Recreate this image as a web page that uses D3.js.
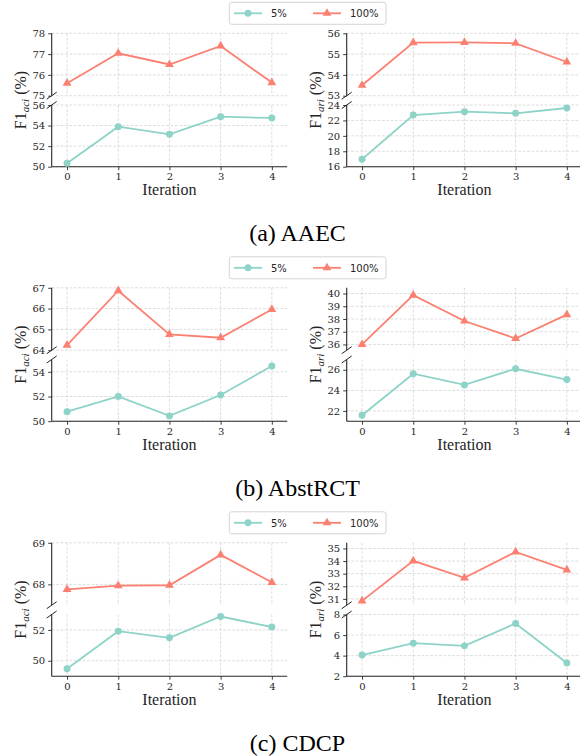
<!DOCTYPE html>
<html>
<head>
<meta charset="utf-8">
<script src="https://cdn.jsdelivr.net/npm/d3@7"></script>
<style>
  body { margin: 0; background: #fff; }
  svg { display: block; }
</style>
</head>
<body>
<div id="chart"></div>
<script>
var w = 580, h = 756;

var iterations = [0, 1, 2, 3, 4];
var seriesNames = ["5%", "100%"];
var colors = ["#8dd3c7", "#fb8072"];
var captions = ["(a) AAEC", "(b) AbstRCT", "(c) CDCP"];
var metricSubs = ["aci", "ari"];

// AAEC
var aaecAci5 = [50.33, 53.89, 53.15, 54.86, 54.74];
var aaecAci100 = [75.60, 77.04, 76.50, 77.39, 75.63];
var aaecAri5 = [16.96, 22.70, 23.13, 22.92, 23.61];
var aaecAri100 = [53.50, 55.55, 55.56, 55.52, 54.62];
// AbstRCT
var abstAci5 = [50.77, 52.01, 50.43, 52.12, 54.48];
var abstAci100 = [64.24, 66.86, 64.76, 64.60, 65.96];
var abstAri5 = [21.58, 25.62, 24.53, 26.10, 25.05];
var abstAri100 = [36.00, 39.87, 37.84, 36.47, 38.34];
// CDCP
var cdcpAci5 = [49.48, 51.92, 51.49, 52.87, 52.19];
var cdcpAci100 = [67.88, 67.97, 67.98, 68.71, 68.05];
var cdcpAri5 = [4.06, 5.21, 4.95, 7.13, 3.29];
var cdcpAri100 = [30.84, 34.02, 32.67, 34.73, 33.30];

// tick labels for the upper (100%) and lower (5%) parts of each broken axis
var aaecAciTopTicks = [75, 76, 77, 78], aaecAciLowTicks = [50, 52, 54, 56];
var aaecAriTopTicks = [53, 54, 55, 56], aaecAriLowTicks = [16, 18, 20, 22, 24];
var abstAciTopTicks = [64, 65, 66, 67], abstAciLowTicks = [50, 52, 54];
var abstAriTopTicks = [36, 37, 38, 39, 40], abstAriLowTicks = [22, 24, 26];
var cdcpAciTopTicks = [68, 69], cdcpAciLowTicks = [50, 52];
var cdcpAriTopTicks = [31, 32, 33, 34, 35], cdcpAriLowTicks = [2, 4, 6, 8];

var panels = [
  [
    { low: aaecAci5, top: aaecAci100, lowDom: [50, 56], topDom: [75, 78], lowTicks: aaecAciLowTicks, topTicks: aaecAciTopTicks },
    { low: aaecAri5, top: aaecAri100, lowDom: [16, 24], topDom: [53, 56], lowTicks: aaecAriLowTicks, topTicks: aaecAriTopTicks }
  ],
  [
    { low: abstAci5, top: abstAci100, lowDom: [50, 55], topDom: [64, 67], lowTicks: abstAciLowTicks, topTicks: abstAciTopTicks },
    { low: abstAri5, top: abstAri100, lowDom: [21, 27], topDom: [35.55, 40.45], lowTicks: abstAriLowTicks, topTicks: abstAriTopTicks }
  ],
  [
    { low: cdcpAci5, top: cdcpAci100, lowDom: [49, 53], topDom: [67.5, 69], lowTicks: cdcpAciLowTicks, topTicks: cdcpAciTopTicks },
    { low: cdcpAri5, top: cdcpAri100, lowDom: [2, 8], topDom: [30.5, 35.45], lowTicks: cdcpAriLowTicks, topTicks: cdcpAriTopTicks }
  ]
];

var rowOffset = [0, 254.5, 509.5];
var colLeft = [51.7, 346.7];
var axW = 235.5;
var topY0 = 33.3, topY1 = 95.7, lowY0 = 105, lowY1 = 166.7;

var serif = "'Liberation Serif', 'Times New Roman', Times, serif";

var svg = d3.select("#chart")
  .append("svg")
  .attr("width", w)
  .attr("height", h);

var spineColor = "#262626";
var gridColor = "#d4d4d4";

function drawAxis(g, p, col) {
  var x = d3.scaleLinear().domain([-0.3, 4.3]).range([colLeft[col], colLeft[col] + axW]);
  var yTop = d3.scaleLinear().domain(p.topDom).range([topY1, topY0]);
  var yLow = d3.scaleLinear().domain(p.lowDom).range([lowY1, lowY0]);

  // grid
  [[yTop, p.topTicks, topY0, topY1], [yLow, p.lowTicks, lowY0, lowY1]].forEach(function(s) {
    var grid = g.append("g").attr("stroke", gridColor).attr("stroke-width", 0.8).attr("stroke-dasharray", "2.8,1.6");
    grid.selectAll(".gx").data(iterations).enter().append("line")
      .attr("x1", function(d) { return x(d); })
      .attr("x2", function(d) { return x(d); })
      .attr("y1", s[2]).attr("y2", s[3]);
    grid.selectAll(".gy").data(s[1]).enter().append("line")
      .attr("x1", x.range()[0]).attr("x2", x.range()[1])
      .attr("y1", function(d) { return s[0](d); })
      .attr("y2", function(d) { return s[0](d); });
  });

  // y axes
  [[yTop, p.topTicks], [yLow, p.lowTicks]].forEach(function(s) {
    var ax = g.append("g")
      .attr("transform", "translate(" + x.range()[0] + ",0)")
      .call(d3.axisLeft(s[0]).tickValues(s[1]).tickSize(3.5).tickPadding(3).tickFormat(d3.format("d")));
    ax.select(".domain").attr("stroke", spineColor).attr("stroke-width", 1.1).attr("d", "M0," + s[0].range()[0] + "V" + s[0].range()[1]);
    ax.selectAll(".tick line").attr("stroke", spineColor).attr("stroke-width", 0.9);
    ax.selectAll(".tick text").attr("fill", "#262626").attr("font-family", "DejaVu Serif").attr("font-size", "10px");
  });

  // x axis
  var xa = g.append("g")
    .attr("transform", "translate(0," + lowY1 + ")")
    .call(d3.axisBottom(x).tickValues(iterations).tickSize(3.5).tickPadding(3).tickFormat(d3.format("d")));
  xa.select(".domain").attr("stroke", spineColor).attr("stroke-width", 1.1).attr("d", "M" + x.range()[0] + ",0H" + x.range()[1]);
  xa.selectAll(".tick line").attr("stroke", spineColor).attr("stroke-width", 0.9);
  xa.selectAll(".tick text").attr("fill", "#262626").attr("font-family", "DejaVu Serif").attr("font-size", "10px");

  // break marks
  var bx = x.range()[0];
  g.selectAll(".brk").data([topY1, lowY0]).enter().append("line")
    .attr("x1", bx - 5).attr("x2", bx + 5)
    .attr("y1", function(d) { return d + 3.5; })
    .attr("y2", function(d) { return d - 3.5; })
    .attr("stroke", spineColor).attr("stroke-width", 1);

  // series lines
  var line = d3.line();
  [[p.low, yLow, 0], [p.top, yTop, 1]].forEach(function(s) {
    var pts = s[0].map(function(v, i) { return [x(iterations[i]), s[1](v)]; });
    g.append("path").attr("d", line(pts)).attr("fill", "none")
      .attr("stroke", colors[s[2]]).attr("stroke-width", 1.8);
    g.selectAll(".m" + s[2]).data(pts).enter().append("path")
      .attr("transform", function(d) { return "translate(" + d[0] + "," + d[1] + ")"; })
      .attr("d", d3.symbol().type(s[2] === 0 ? d3.symbolCircle : d3.symbolTriangle).size(s[2] === 0 ? 38 : 34))
      .attr("fill", colors[s[2]]);
  });

  // y label
  var cx = x.range()[0] - 26, cy = (topY0 + lowY1) / 2;
  var yl = g.append("text")
    .attr("transform", "translate(" + cx + "," + cy + ") rotate(-90)")
    .attr("text-anchor", "middle")
    .attr("font-family", serif)
    .attr("font-size", "16px")
    .attr("fill", "#262626");
  yl.append("tspan").text("F1");
  yl.append("tspan").attr("font-style", "italic").attr("font-size", "11px").attr("dy", 3).text(metricSubs[col]);
  yl.append("tspan").attr("dy", -3).text(" (%)");

  // x label
  g.append("text")
    .attr("x", (x(0) + x(4)) / 2).attr("y", 195)
    .attr("text-anchor", "middle")
    .attr("font-family", serif)
    .attr("font-size", "16px")
    .attr("fill", "#262626")
    .text("Iteration");
}

panels.forEach(function(row, r) {
  var g = svg.append("g").attr("transform", "translate(0," + rowOffset[r] + ")");
  row.forEach(function(p, c) { drawAxis(g, p, c); });

  // legend
  var lg = g.append("g");
  lg.append("rect")
    .attr("x", 229.3).attr("y", 2.3).attr("width", 156.7).attr("height", 22)
    .attr("rx", 2.5).attr("fill", "#fff").attr("stroke", "#d0d0d0").attr("stroke-width", 0.9);
  var lx = [234, 313];
  seriesNames.forEach(function(name, i) {
    lg.append("line").attr("x1", lx[i]).attr("x2", lx[i] + 28).attr("y1", 13.3).attr("y2", 13.3)
      .attr("stroke", colors[i]).attr("stroke-width", 1.8);
    lg.append("path").attr("transform", "translate(" + (lx[i] + 14) + ",13.3)")
      .attr("d", d3.symbol().type(i === 0 ? d3.symbolCircle : d3.symbolTriangle).size(i === 0 ? 38 : 34))
      .attr("fill", colors[i]);
    lg.append("text").attr("x", lx[i] + 37).attr("y", 17)
      .attr("font-family", "DejaVu Sans").attr("font-size", "10px").attr("fill", "#262626")
      .text(name);
  });

  // caption
  g.append("text")
    .attr("x", 297.5).attr("y", 241)
    .attr("text-anchor", "middle")
    .attr("font-family", serif)
    .attr("font-size", "24px")
    .attr("fill", "#000")
    .text(captions[r]);
});
</script>
</body>
</html>
